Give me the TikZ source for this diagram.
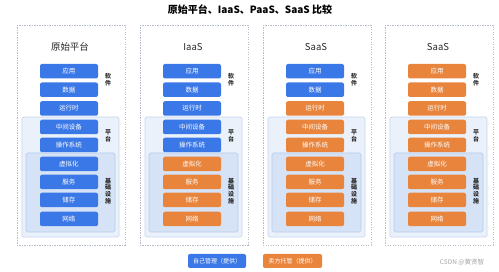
\documentclass[tikz,border=0pt]{standalone}
\usepackage{fontspec}
\setmainfont{Noto Sans CJK SC}
\definecolor{bblue}{HTML}{3B78E7}
\definecolor{borange}{HTML}{E8843C}
\definecolor{platfill}{HTML}{EAF1FB}
\definecolor{platline}{HTML}{C6D6EE}
\definecolor{infrafill}{HTML}{D6E3F6}
\definecolor{infraline}{HTML}{B6CAEA}
\definecolor{dashline}{HTML}{B4BDCA}
\definecolor{labtext}{HTML}{2A2A2A}
\tikzset{
  colbox/.style={draw=dashline, line width=0.7pt, dash pattern=on 1.2pt off 1.3pt},
  platbox/.style={draw=platline, fill=platfill, line width=0.6pt, rounded corners=1.5pt},
  infrabox/.style={draw=infraline, fill=infrafill, line width=0.6pt, rounded corners=1.5pt},
  layer/.style={rounded corners=2pt, text=white, inner sep=0pt, minimum width=58pt, minimum height=14.5pt, font=\fontsize{6.5}{7}\selectfont},
  bl/.style={layer, fill=bblue},
  og/.style={layer, fill=borange},
  sidelab/.style={text=labtext, align=center, inner sep=0pt, font=\bfseries\fontsize{6}{6.6}\selectfont},
  coltitle/.style={text=black!85, font=\fontsize{9.5}{11}\selectfont, inner sep=0pt},
}
\begin{document}
\begin{tikzpicture}[x=1pt,y=-1pt]
\useasboundingbox (0,0) rectangle (499,272);
\fill[white] (0,0) rectangle (499,272);
\node[font=\bfseries\fontsize{10}{12}\selectfont, inner sep=0pt] (title) at (250,10) {原始平台、IaaS、PaaS、SaaS 比较};

% columns
\foreach \L/\T/\ca/\cb/\cc/\cd/\ce/\cf/\cg/\ch/\ci [count=\k] in {
  17/原始平台/bl/bl/bl/bl/bl/bl/bl/bl/bl,
  140/IaaS/bl/bl/bl/bl/bl/og/og/og/og,
  263/SaaS/bl/bl/og/og/og/og/og/og/og,
  385/SaaS/og/og/og/og/og/og/og/og/og}{
  \draw[colbox] (\L,25) rectangle ++(108,220);
  \node[coltitle] (t\k) at (\L+53,47) {\T};
  \draw[platbox] (\L+5,117) rectangle (\L+102,237);
  \draw[infrabox] (\L+9,153) rectangle (\L+98,232);
  \node[\ca] (a\k) at (\L+52,71.25) {应用};
  \node[\cb] (b\k) at (\L+52,89.75) {数据};
  \node[\cc] (c\k) at (\L+52,108.5) {运行时};
  \node[\cd] (d\k) at (\L+52,127) {中间设备};
  \node[\ce] (e\k) at (\L+52,145) {操作系统};
  \node[\cf] (f\k) at (\L+52,164) {虚拟化};
  \node[\cg] (g\k) at (\L+52,182) {服务};
  \node[\ch] (h\k) at (\L+52,200) {储存};
  \node[\ci] (i\k) at (\L+52,219) {网络};
  \node[sidelab] (s\k) at (\L+91,80) {软\\件};
  \node[sidelab] (p\k) at (\L+91,136) {平\\台};
  \node[sidelab] (n\k) at (\L+91,191) {基\\础\\设\\施};
}

% legend
\node[layer, fill=bblue, minimum width=58pt, minimum height=14pt, font=\fontsize{6}{7}\selectfont] (leg1) at (217,261) {自己管理（提供）};
\node[layer, fill=borange, minimum width=59pt, minimum height=14pt, font=\fontsize{6}{7}\selectfont] (leg2) at (292.5,261) {卖方托管（提供）};
\node[text=black!35, font=\fontsize{6.5}{7}\selectfont, inner sep=0pt] (wm) at (462,262) {CSDN @黄贤智};
\end{tikzpicture}
\end{document}
